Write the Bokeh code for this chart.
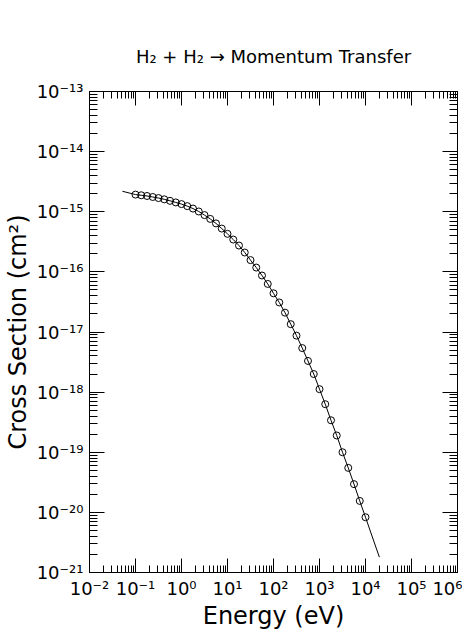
from bokeh.plotting import figure
from bokeh.models import FixedTicker, LogAxis, CustomJSTickFormatter, ColumnDataSource
from bokeh.embed import file_html
from bokeh.resources import INLINE

# ---- data (energy in eV, cross section in cm^2) ----
energy_pts = [0.1, 0.1334, 0.1778, 0.2371, 0.3162, 0.4217, 0.5623, 0.7499,
              1.0, 1.334, 1.778, 2.371, 3.162, 4.217, 5.623, 7.499,
              10.0, 13.34, 17.78, 23.71, 31.62, 42.17, 56.23, 74.99,
              100.0, 133.4, 177.8, 237.1, 316.2, 421.7, 562.3, 749.9,
              1000.0, 1334.0, 1778.0, 2371.0, 3162.0, 4217.0, 5623.0, 7499.0,
              10000.0]
sigma_pts = [1.93e-15, 1.88e-15, 1.83e-15, 1.76e-15, 1.69e-15, 1.61e-15, 1.52e-15, 1.43e-15,
             1.34e-15, 1.24e-15, 1.13e-15, 1.01e-15, 8.8e-16, 7.6e-16, 6.4e-16, 5.25e-16,
             4.29e-16, 3.45e-16, 2.74e-16, 2.10e-16, 1.57e-16, 1.18e-16, 8.7e-17, 6.3e-17,
             4.4e-17, 3.1e-17, 2.1e-17, 1.35e-17, 8.7e-18, 5.4e-18, 3.3e-18, 2.0e-18,
             1.12e-18, 6.3e-19, 3.4e-19, 1.9e-19, 1.0e-19, 5.5e-20, 2.95e-20, 1.55e-20,
             8.3e-21]
fit_start_energy = [0.052]
fit_start_sigma = [2.19e-15]
fit_end_energy = [2.0e4]
fit_end_sigma = [1.8e-21]

x_major = [1e-2, 1e-1, 1e0, 1e1, 1e2, 1e3, 1e4, 1e5, 1e6]
y_major = [1e-21, 1e-20, 1e-19, 1e-18, 1e-17, 1e-16, 1e-15, 1e-14, 1e-13]

title_text = "H\u2082 + H\u2082 \u2192 Momentum Transfer"
x_label = "Energy (eV)"
y_label = "Cross Section (cm\u00b2)"

FONT = "DejaVu Sans"

line_src = ColumnDataSource(dict(
    x=fit_start_energy + energy_pts + fit_end_energy,
    y=fit_start_sigma + sigma_pts + fit_end_sigma))
pt_src = ColumnDataSource(dict(x=energy_pts, y=sigma_pts))

p = figure(frame_width=368, frame_height=481, x_axis_type="log", y_axis_type="log",
           x_range=(1e-2, 1e6), y_range=(1e-21, 1e-13),
           output_backend="svg", toolbar_location=None,
           min_border_left=82, min_border_right=5,
           min_border_top=91, min_border_bottom=0,
           title=title_text)

p.background_fill_color = "white"
p.border_fill_color = "white"
p.outline_line_color = "black"
p.outline_line_width = 1
p.xgrid.visible = False
p.ygrid.visible = False

p.title.text_font = FONT
p.title.text_font_size = "18px"
p.title.text_font_style = "normal"
p.title.text_color = "black"
p.title.align = "center"
p.title.standoff = 49

def minor_for(majors):
    out = []
    for v in majors[:-1]:
        for m in range(2, 10):
            out.append(m * v)
    return out

x_ticker = FixedTicker(ticks=x_major, minor_ticks=minor_for(x_major))
y_ticker = FixedTicker(ticks=y_major, minor_ticks=minor_for(y_major))

sup_code = """
const sup = {'-':'\u207b','0':'\u2070','1':'\u00b9','2':'\u00b2','3':'\u00b3',
             '4':'\u2074','5':'\u2075','6':'\u2076','7':'\u2077','8':'\u2078','9':'\u2079'};
const e = Math.round(Math.log10(tick));
return '10' + String(e).split('').map(c => sup[c]).join('');
"""
blank_code = "return '';"

def style_axis(ax, major_len, minor_len, labels):
    ax.axis_line_color = "black"
    ax.axis_line_width = 1
    ax.major_tick_line_color = "black"
    ax.minor_tick_line_color = "black"
    ax.major_tick_in = major_len
    ax.major_tick_out = 0
    ax.minor_tick_in = minor_len
    ax.minor_tick_out = 0
    ax.major_label_text_font = FONT
    ax.major_label_text_font_size = "18px"
    ax.major_label_text_color = "black"
    ax.axis_label_text_font = FONT
    ax.axis_label_text_font_size = "24px"
    ax.axis_label_text_font_style = "normal"
    ax.axis_label_text_color = "black"
    if labels:
        ax.formatter = CustomJSTickFormatter(code=sup_code)
    else:
        ax.formatter = CustomJSTickFormatter(code=blank_code)
        ax.major_label_standoff = 0

# bottom axis
xa = p.xaxis[0]
xa.ticker = x_ticker
style_axis(xa, 14, 7, True)
xa.axis_label = x_label
xa.major_label_standoff = 5
xa.axis_label_standoff = 0

# left axis
ya = p.yaxis[0]
ya.ticker = y_ticker
style_axis(ya, 15, 8, True)
ya.axis_label = y_label
ya.major_label_standoff = 6
ya.axis_label_standoff = 2

# top and right mirror axes
top = LogAxis(ticker=x_ticker)
style_axis(top, 14, 7, False)
p.add_layout(top, "above")
right = LogAxis(ticker=y_ticker)
style_axis(right, 15, 8, False)
p.add_layout(right, "right")

p.line("x", "y", source=line_src, line_color="black", line_width=1)
p.scatter("x", "y", source=pt_src, marker="circle", size=7,
          fill_color=None, line_color="black", line_width=1)

open("out.html", "w").write(file_html(p, INLINE))
